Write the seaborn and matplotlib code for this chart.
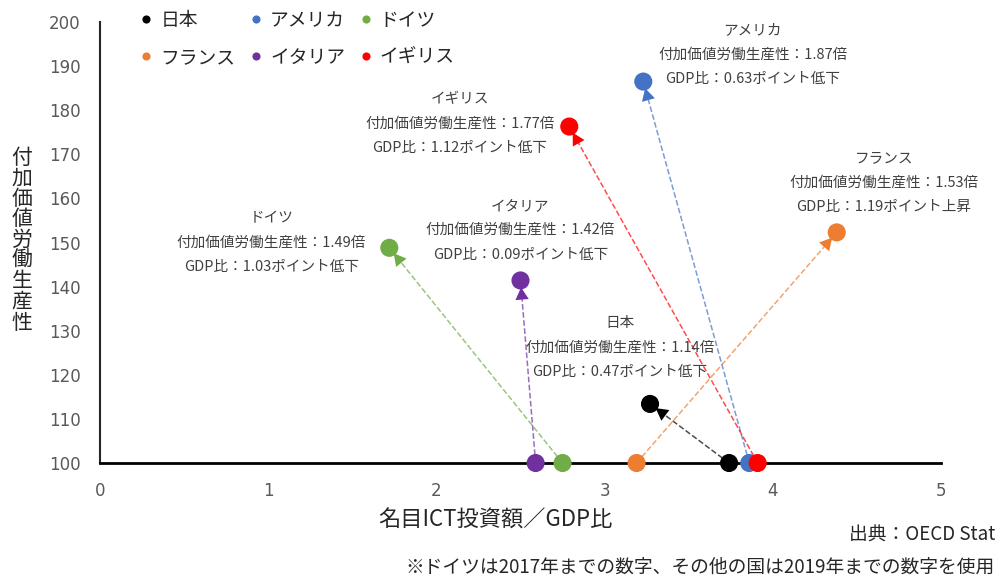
import matplotlib
matplotlib.use('Agg')
import matplotlib.pyplot as plt
import seaborn as sns
import pandas as pd

# dados
countries = ['日本', 'アメリカ', 'ドイツ', 'フランス', 'イタリア', 'イギリス']
colors = ['#000000', '#4472C4', '#70AD47', '#ED7D31', '#7030A0', '#FF0000']
x_start = [3.74, 3.86, 2.75, 3.19, 2.59, 3.91]
x_end = [3.27, 3.23, 1.72, 4.38, 2.50, 2.79]
y_start = [100, 100, 100, 100, 100, 100]
y_end = [113.4, 186.5, 148.8, 152.3, 141.4, 176.3]
ratios = ['1.14', '1.87', '1.49', '1.53', '1.42', '1.77']
gdp_diff = ['0.47ポイント低下', '0.63ポイント低下', '1.03ポイント低下',
            '1.19ポイント上昇', '0.09ポイント低下', '1.12ポイント低下']
label_x = [3.09, 3.88, 1.02, 4.66, 2.50, 2.14]
label_y = [126.1, 192.7, 149.9, 163.5, 152.8, 176.9]

sns.set_style('white')
plt.rcParams['font.family'] = ['Noto Sans CJK JP', 'DejaVu Sans']

df = pd.DataFrame({'国': countries * 2,
                   'x': x_start + x_end,
                   'y': y_start + y_end})
palette = dict(zip(countries, colors))

fig = plt.figure(figsize=(10, 5.8), dpi=100)
ax = fig.add_axes([0.1, 0.2017, 0.841, 0.7603])

# linhas tracejadas com ponta de seta
for i, c in enumerate(countries):
    ax.plot([x_start[i], x_end[i]], [y_start[i], y_end[i]], ls='--', lw=1.1,
            color=colors[i], alpha=0.7, zorder=2)
    ax.annotate('', xy=(x_end[i], y_end[i]), xytext=(x_start[i], y_start[i]),
                arrowprops=dict(arrowstyle='-|>,head_length=0.55,head_width=0.3',
                                color=colors[i], lw=0, shrinkA=0, shrinkB=5,
                                mutation_scale=16), zorder=3)

sns.scatterplot(data=df, x='x', y='y', hue='国', palette=palette, s=170,
                edgecolor='none', ax=ax, zorder=4, clip_on=False)

# rótulos
for i, c in enumerate(countries):
    txt = f'{c}\n付加価値労働生産性：{ratios[i]}倍\nGDP比：{gdp_diff[i]}'
    ax.text(label_x[i], label_y[i], txt, ha='center', va='center',
            fontsize=10.5, color='#404040', linespacing=1.95, zorder=5)

ax.set_xlim(0, 5)
ax.set_ylim(100, 200)
ax.set_xticks(range(0, 6))
ax.set_yticks(range(100, 201, 10))
ax.tick_params(length=0, labelsize=12, labelcolor='#595959')
ax.tick_params(axis='y', pad=14)
ax.tick_params(axis='x', pad=14)
for lab in ax.get_xticklabels() + ax.get_yticklabels():
    lab.set_family('DejaVu Sans')
ax.set_xlabel('')
ax.set_ylabel('')
for s in ['top', 'right']:
    ax.spines[s].set_visible(False)
ax.spines['bottom'].set_linewidth(2)
ax.spines['bottom'].set_color('black')
ax.spines['left'].set_linewidth(1.5)
ax.spines['left'].set_color('#262626')

# legenda em 2 linhas
handles, labels = ax.get_legend_handles_labels()
order = [0, 3, 1, 4, 2, 5]
ax.legend([handles[j] for j in order], [labels[j] for j in order], ncol=3,
          loc='upper left', bbox_to_anchor=(0.12, 1.012), bbox_transform=fig.transFigure,
          frameon=False, fontsize=13.5, markerscale=0.45, handletextpad=0.25,
          columnspacing=0.6, labelspacing=0.85, handlelength=1.0)

fig.text(0.022, 0.586, '\n'.join('付加価値労働生産性'), ha='center', va='center',
         fontsize=15, linespacing=0.92, color='#262626')
fig.text(0.495, 0.103, '名目ICT投資額／GDP比', ha='center', va='center',
         fontsize=16, color='#262626')
fig.text(0.995, 0.077, '出典：OECD Stat', ha='right', va='center',
         fontsize=13.5, color='#262626')
fig.text(0.995, 0.022, '※ドイツは2017年までの数字、その他の国は2019年までの数字を使用',
         ha='right', va='center', fontsize=13.5, color='#262626')

plt.savefig('out.png', dpi=100)
